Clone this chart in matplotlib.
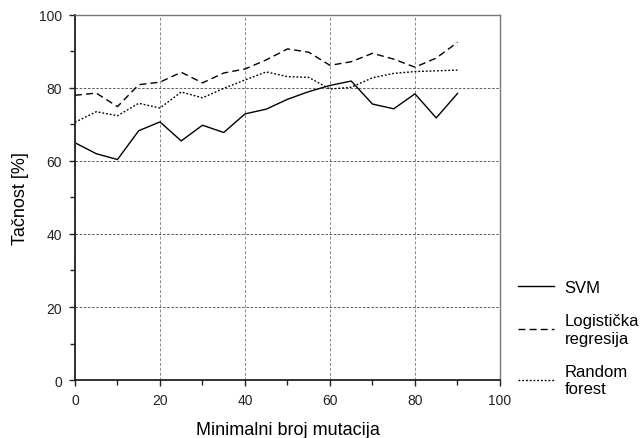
import numpy as np
import matplotlib.pyplot as plt
from matplotlib.ticker import MultipleLocator

plt.rcParams['font.family'] = ['Liberation Sans', 'DejaVu Sans']

# Minimal number of mutations
mutations = [0, 5, 10, 15, 20, 25, 30, 35, 40, 45, 50, 55, 60, 65, 70, 75, 80, 85, 90]

# Accuracy [%] per classifier
svm = [65.0, 62.0, 60.4, 68.3, 70.7, 65.5, 69.8, 67.8, 72.9, 74.2,
       76.9, 79.0, 80.7, 81.9, 75.6, 74.3, 78.4, 71.8, 78.5]
logreg = [78.0, 78.6, 74.9, 80.9, 81.6, 84.3, 81.4, 84.1, 85.2, 87.7,
          90.7, 89.8, 86.2, 87.2, 89.5, 87.9, 85.7, 88.2, 92.5]
rforest = [70.6, 73.5, 72.4, 75.8, 74.5, 78.9, 77.3, 79.9, 82.2, 84.4,
           83.1, 82.9, 79.7, 80.2, 82.8, 84.0, 84.5, 84.7, 84.9]

labels = ['SVM', 'Logistička\nregresija', 'Random\nforest']

fig = plt.figure(figsize=(6.43, 4.39), dpi=100)
ax = fig.add_axes([0.1166, 0.1321, 0.6610, 0.8315])

ax.plot(mutations, svm, color='black', lw=1.0, linestyle='-', label=labels[0])
ax.plot(mutations, logreg, color='black', lw=1.0, linestyle=(0, (5, 3)), label=labels[1])
ax.plot(mutations, rforest, color='black', lw=1.0, linestyle=(0, (1.3, 1.4)), label=labels[2])

ax.set_xlim(0, 100)
ax.set_ylim(0, 100)
ax.xaxis.set_major_locator(MultipleLocator(20))
ax.xaxis.set_minor_locator(MultipleLocator(10))
ax.yaxis.set_major_locator(MultipleLocator(20))
ax.yaxis.set_minor_locator(MultipleLocator(10))
ax.tick_params(axis='both', which='major', direction='out', length=4.5, width=1,
               pad=5, labelsize=10, colors='#222222')
ax.tick_params(axis='both', which='minor', direction='out', length=3.5, width=1,
               colors='#222222')
ax.tick_params(top=False, right=False)

ax.xaxis.grid(True, which='major', color='#8a8a8a', linestyle=(0, (3, 2)), lw=0.7)
ax.yaxis.grid(True, which='major', color='#444444', linestyle=(0, (3, 2)), lw=0.6)

for side in ['left', 'bottom']:
    ax.spines[side].set_color('#222222')
    ax.spines[side].set_linewidth(1.3)
for side in ['top', 'right']:
    ax.spines[side].set_color('#777777')
    ax.spines[side].set_linewidth(1.0)

ax.set_xlabel('Minimalni broj mutacija', fontsize=13, labelpad=10)
ax.set_ylabel('Tačnost [%]', fontsize=13, labelpad=7)

ax.legend(loc='center left', bbox_to_anchor=(1.026, 0.115), frameon=False,
          fontsize=12, handlelength=2.2, handletextpad=0.6, labelspacing=1.1,
          borderpad=0.4, borderaxespad=0)

plt.savefig('out.png', dpi=100)
